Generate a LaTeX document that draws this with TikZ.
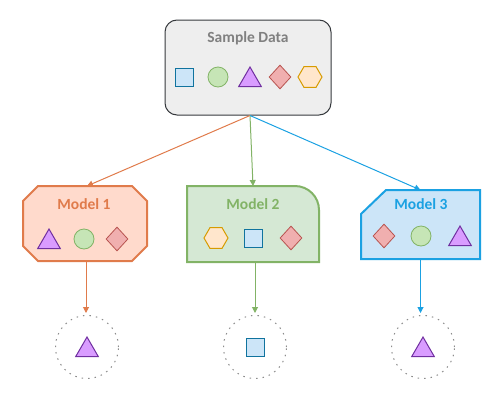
\documentclass[tikz,border=0pt]{standalone}
\usepackage{fontspec}
\setmainfont{Carlito}
\usetikzlibrary{shapes.geometric,arrows.meta}
\definecolor{sdfill}{HTML}{EEEEEE}
\definecolor{sddraw}{HTML}{36393D}
\definecolor{sdtext}{HTML}{808080}
\definecolor{orfill}{HTML}{FFDACC}
\definecolor{ordraw}{HTML}{E07B4B}
\definecolor{grfill}{HTML}{D5E8D4}
\definecolor{grdraw}{HTML}{82B366}
\definecolor{blfill}{HTML}{CCE5F8}
\definecolor{bldraw}{HTML}{1BA1E2}
\definecolor{sqfill}{HTML}{CCE5F8}
\definecolor{sqdraw}{HTML}{10739E}
\definecolor{cifill}{HTML}{C6E5B6}
\definecolor{cidraw}{HTML}{82B366}
\definecolor{trfill}{HTML}{D99CFF}
\definecolor{trdraw}{HTML}{7030A0}
\definecolor{difill}{HTML}{F0AFAF}
\definecolor{didraw}{HTML}{B85450}
\definecolor{hxfill}{HTML}{FFE6CC}
\definecolor{hxdraw}{HTML}{D79B00}
\definecolor{dotgray}{HTML}{8C8C8C}
\tikzset{
  titletext/.style={font=\fontsize{15.5}{18}\selectfont\bfseries, inner sep=0pt},
  holder/.style={inner sep=0pt, outer sep=0pt},
  sq/.style={rectangle, draw=sqdraw, fill=sqfill, line width=1pt, minimum size=18pt, inner sep=0pt},
  ci/.style={circle, draw=cidraw, fill=cifill, line width=0.8pt, minimum size=20pt, inner sep=0pt},
  tri/.style={regular polygon, regular polygon sides=3, draw=trdraw, fill=trfill, line width=1pt, minimum size=26pt, inner sep=0pt},
  dia/.style={diamond, draw=didraw, fill=difill, line width=0.8pt, minimum width=22pt, minimum height=24pt, inner sep=0pt},
  hex/.style={regular polygon, regular polygon sides=6, draw=hxdraw, fill=hxfill, line width=1pt, minimum size=24pt, inner sep=0pt},
  result/.style={circle, draw=dotgray, line width=1pt, dash pattern=on 1.5pt off 5pt, minimum size=63pt, inner sep=0pt},
  arr/.style={line width=1pt, -{Triangle[width=6pt,length=6pt]}},
}
\begin{document}
\begin{tikzpicture}[x=1pt,y=-1pt]
\useasboundingbox (0,0) rectangle (500,402);
% Sample data
\node[draw=sddraw, fill=sdfill, rounded corners=12pt, line width=1pt, minimum width=166pt, minimum height=95pt, inner sep=0pt] (sd) at (248,67.5) {};
\node[titletext, text=sdtext] (sdt) at (248,38.5) {Sample Data};
\node[sq] (sd1) at (184,77) {};
\node[ci] (sd2) at (218,77) {};
\node[tri] (sd3) at (250,80) {};
\node[dia] (sd4) at (280,77) {};
\node[hex] (sd5) at (310,77) {};
% Model 1
\node[holder, minimum width=124pt, minimum height=75pt] (m1) at (85,223.5) {};
\draw[draw=ordraw, fill=orfill, line width=2pt, line join=miter]
  ([xshift=15pt]m1.north west) -- ([xshift=-15pt]m1.north east) -- ([yshift=-15pt]m1.north east)
  -- ([yshift=15pt]m1.south east) -- ([xshift=-15pt]m1.south east) -- ([xshift=15pt]m1.south west)
  -- ([yshift=15pt]m1.south west) -- ([yshift=-15pt]m1.north west) -- cycle;
\node[titletext, text=ordraw] (m1t) at (84,204.5) {Model 1};
\node[tri] (m1a) at (49,242) {};
\node[ci] (m1b) at (84,239) {};
\node[dia] (m1c) at (117,239) {};
% Model 2
\node[holder, minimum width=132pt, minimum height=76pt] (m2) at (253,224) {};
\draw[draw=grdraw, fill=grfill, line width=2pt] (m2.south west) -- (m2.north west) -- ([xshift=-24pt]m2.north east) arc[start angle=-90, end angle=0, radius=24] -- (m2.south east) -- cycle;
\node[titletext, text=grdraw] (m2t) at (253,204.5) {Model 2};
\node[hex] (m2a) at (216,238) {};
\node[sq] (m2b) at (253,238) {};
\node[dia] (m2c) at (291,238) {};
% Model 3
\node[holder, minimum width=119pt, minimum height=69pt] (m3) at (420.5,224.5) {};
\draw[draw=bldraw, fill=blfill, line width=2pt]
  ([xshift=25pt]m3.north west) -- (m3.north east) -- (m3.south east) -- (m3.south west)
  -- ([yshift=-24pt]m3.north west) -- cycle;
\node[titletext, text=bldraw] (m3t) at (421,204.5) {Model 3};
\node[dia] (m3a) at (384,236) {};
\node[ci] (m3b) at (421,236) {};
\node[tri] (m3c) at (460,239) {};
% Results
\node[result] (c1) at (87,347) {};
\node[result] (c2) at (255,347) {};
\node[result] (c3) at (423,347) {};
\node[tri] (c1s) at (87,350) {};
\node[sq] (c2s) at (255,347) {};
\node[tri] (c3s) at (423,350) {};
% Arrows
\draw[arr, ordraw] ([xshift=2pt]sd.south) -- ([xshift=2pt]m1.north);
\draw[arr, grdraw] ([xshift=2pt]sd.south) -- (m2.north);
\draw[arr, bldraw] ([xshift=2pt]sd.south) -- (m3.north);
\draw[arr, ordraw] ([xshift=1pt]m1.south) -- ([xshift=1pt,yshift=2pt]m1.south |- c1.north);
\draw[arr, grdraw] (m2.south -| c2.center) -- ([yshift=2pt]c2.north);
\draw[arr, bldraw] (m3.south) -- ([yshift=2pt]m3.south |- c3.north);
\end{tikzpicture}
\end{document}
